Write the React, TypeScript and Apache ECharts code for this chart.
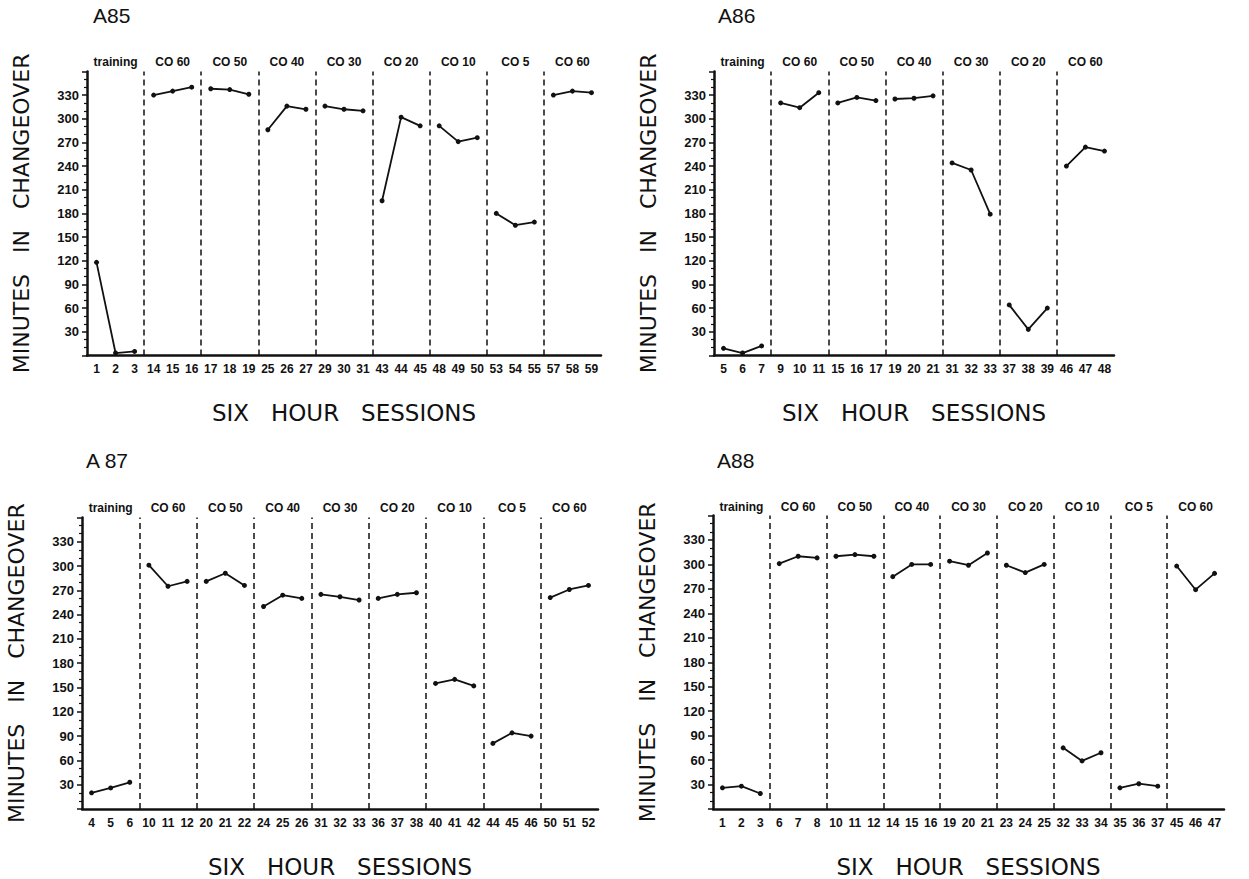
import React, { useEffect, useRef } from "react";
import * as echarts from "echarts";

// ---------- DATA ----------
const sessionsPerPhase = 3;

const a85Sessions = ["1","2","3","14","15","16","17","18","19","25","26","27","29","30","31","43","44","45","48","49","50","53","54","55","57","58","59"];
const a85Values = [118,3,5,330,335,340,338,337,331,286,316,312,316,312,310,196,302,291,291,271,276,180,165,169,330,335,333];
const a85Phases = ["training","CO 60","CO 50","CO 40","CO 30","CO 20","CO 10","CO 5","CO 60"];

const a86Sessions = ["5","6","7","9","10","11","15","16","17","19","20","21","31","32","33","37","38","39","46","47","48"];
const a86Values = [9,3,12,320,314,333,320,327,323,325,326,329,244,235,179,64,33,60,240,264,259];
const a86Phases = ["training","CO 60","CO 50","CO 40","CO 30","CO 20","CO 60"];

const a87Sessions = ["4","5","6","10","11","12","20","21","22","24","25","26","31","32","33","36","37","38","40","41","42","44","45","46","50","51","52"];
const a87Values = [20,26,33,301,275,281,281,291,276,250,264,260,265,262,258,260,265,267,155,160,152,81,94,90,261,271,276];
const a87Phases = ["training","CO 60","CO 50","CO 40","CO 30","CO 20","CO 10","CO 5","CO 60"];

const a88Sessions = ["1","2","3","6","7","8","10","11","12","14","15","16","19","20","21","23","24","25","32","33","34","35","36","37","45","46","47"];
const a88Values = [26,28,19,301,310,308,310,312,310,285,300,300,304,299,314,299,290,300,75,59,69,26,31,28,298,269,289];
const a88Phases = ["training","CO 60","CO 50","CO 40","CO 30","CO 20","CO 10","CO 5","CO 60"];

const yTicksMin = 0;
const yTicksMax = 360;
const yTickStep = 30;

const yTitle = "MINUTES   IN   CHANGEOVER";
const xTitle = "SIX   HOUR   SESSIONS";

// ---------- LAYOUT ----------
const panels = [
  { title: "A85", sessions: a85Sessions, values: a85Values, phases: a85Phases,
    grid: { left: 87, top: 71.4, width: 514, height: 284 }, titlePos: [93, 16] },
  { title: "A86", sessions: a86Sessions, values: a86Values, phases: a86Phases,
    grid: { left: 714, top: 71.4, width: 400, height: 284 }, titlePos: [718, 16] },
  { title: "A 87", sessions: a87Sessions, values: a87Values, phases: a87Phases,
    grid: { left: 82, top: 517.4, width: 516, height: 293 }, titlePos: [86, 461] },
  { title: "A88", sessions: a88Sessions, values: a88Values, phases: a88Phases,
    grid: { left: 713, top: 515.5, width: 511, height: 294 }, titlePos: [717, 461] },
];

const INK = "#111";
const FONT = "'Liberation Sans', Arial, sans-serif";
const TITLE_FONT = "'DejaVu Sans', sans-serif";

export default function App() {
  const ref = useRef<HTMLDivElement>(null);

  useEffect(() => {
    if (!ref.current) return;
    const chart = echarts.init(ref.current, null, { renderer: "svg" });

    const grids: any[] = [];
    const xAxes: any[] = [];
    const yAxes: any[] = [];
    const series: any[] = [];
    const graphics: any[] = [];

    panels.forEach((p, i) => {
      grids.push({ ...p.grid, containLabel: false });
      const n = p.sessions.length;
      // session axis (bottom)
      xAxes.push({
        type: "category",
        gridIndex: i,
        data: p.sessions,
        boundaryGap: true,
        position: "bottom",
        axisLine: { show: true, lineStyle: { color: INK, width: 2.5 } },
        axisTick: { show: false },
        axisLabel: { interval: 0, color: INK, fontFamily: FONT, fontWeight: "bold", fontSize: 12, margin: 8 },
        splitLine: { show: false },
        name: xTitle,
        nameLocation: "middle",
        nameGap: 46,
        nameTextStyle: { color: INK, fontFamily: TITLE_FONT, fontSize: 23 },
      });
      // phase axis (top)
      xAxes.push({
        type: "category",
        gridIndex: i,
        data: p.phases,
        boundaryGap: true,
        position: "top",
        axisLine: { show: false },
        axisTick: { show: false },
        axisLabel: { interval: 0, color: INK, fontFamily: FONT, fontWeight: "bold", fontSize: 12, margin: 3 },
        splitLine: { show: false },
      });
      // hidden value axis for phase separators
      xAxes.push({
        type: "value",
        gridIndex: i,
        min: 0,
        max: n,
        show: false,
      });
      yAxes.push({
        type: "value",
        gridIndex: i,
        min: yTicksMin,
        max: yTicksMax,
        interval: yTickStep,
        axisLine: { show: true, lineStyle: { color: INK, width: 2.5 } },
        axisTick: { show: true, length: 5, lineStyle: { color: INK, width: 1.5 } },
        minorTick: { show: true, splitNumber: 3, length: 3, lineStyle: { color: INK, width: 1.2 } },
        splitLine: { show: false },
        minorSplitLine: { show: false },
        axisLabel: {
          color: INK, fontFamily: FONT, fontWeight: "bold", fontSize: 13, margin: 8,
          formatter: (v: number) => (v === yTicksMin || v === yTicksMax ? "" : String(v)),
        },
        name: yTitle,
        nameLocation: "middle",
        nameRotate: 90,
        nameGap: 55,
        nameTextStyle: { color: INK, fontFamily: TITLE_FONT, fontSize: 22 },
      });

      // data series, one per phase
      p.phases.forEach((_ph, k) => {
        series.push({
          type: "line",
          xAxisIndex: 3 * i,
          yAxisIndex: i,
          data: p.values.map((v, j) => (Math.floor(j / sessionsPerPhase) === k ? v : "-")),
          symbol: "circle",
          symbolSize: 5,
          showSymbol: true,
          connectNulls: false,
          lineStyle: { color: INK, width: 1.8 },
          itemStyle: { color: INK },
          silent: true,
        });
      });

      // phase separators
      const bounds: number[] = [];
      for (let k = 1; k < p.phases.length; k++) bounds.push(k * sessionsPerPhase);
      series.push({
        type: "line",
        xAxisIndex: 3 * i + 2,
        yAxisIndex: i,
        data: [],
        silent: true,
        markLine: {
          silent: true,
          symbol: ["none", "none"],
          label: { show: false },
          lineStyle: { color: INK, width: 1.5, type: [6, 4] },
          data: bounds.map((b) => ({ xAxis: b })),
        },
      });

      graphics.push({
        type: "text",
        left: p.titlePos[0],
        top: p.titlePos[1] - 11,
        style: { text: p.title, fill: INK, font: `21px ${FONT}` },
      });
    });

    chart.setOption({
      animation: false,
      backgroundColor: "#fff",
      grid: grids,
      xAxis: xAxes,
      yAxis: yAxes,
      series,
      graphic: graphics,
    });

    return () => chart.dispose();
  }, []);

  return (
    <div
      ref={ref}
      style={{ position: "absolute", left: 0, top: 0, width: 1249, height: 879, background: "#fff" }}
    />
  );
}
